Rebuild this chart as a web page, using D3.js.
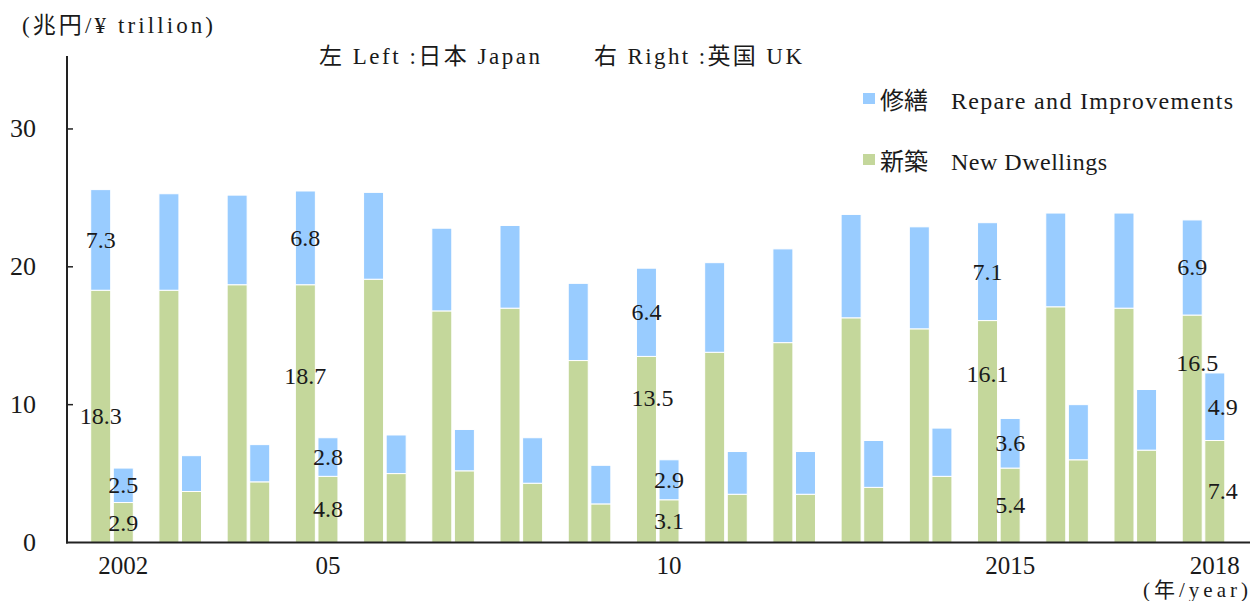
<!DOCTYPE html>
<html>
<head>
<meta charset="utf-8">
<script src="https://cdn.jsdelivr.net/npm/d3@7"></script>
<style>
  html, body { margin: 0; padding: 0; background: #fff; }
  svg { display: block; }
  text { font-family: "Liberation Serif", "Noto Sans CJK JP", serif; fill: #1a1a1a; }
</style>
</head>
<body>
<svg id="chart" width="1250" height="601"></svg>
<script>
// ---- data ----
const years = [2002, 2003, 2004, 2005, 2006, 2007, 2008, 2009, 2010, 2011, 2012, 2013, 2014, 2015, 2016, 2017, 2018];
const japanNew    = [18.3, 18.3, 18.7, 18.7, 19.1, 16.8, 17.0, 13.2, 13.5, 13.8, 14.5, 16.3, 15.5, 16.1, 17.1, 17.0, 16.5];
const japanRepair = [7.3, 7.0, 6.5, 6.8, 6.3, 6.0, 6.0, 5.6, 6.4, 6.5, 6.8, 7.5, 7.4, 7.1, 6.8, 6.9, 6.9];
const ukNew       = [2.9, 3.7, 4.4, 4.8, 5.0, 5.2, 4.3, 2.8, 3.1, 3.5, 3.5, 4.0, 4.8, 5.4, 6.0, 6.7, 7.4];
const ukRepair    = [2.5, 2.6, 2.7, 2.8, 2.8, 3.0, 3.3, 2.8, 2.9, 3.1, 3.1, 3.4, 3.5, 3.6, 4.0, 4.4, 4.9];
const labeledYears = [2002, 2005, 2010, 2015, 2018];
const xTickLabels = { 2002: "2002", 2005: "05", 2010: "10", 2015: "2015", 2018: "2018" };
const yTicks = [0, 10, 20, 30];
const seriesNames = ["修繕", "新築"];
const seriesEnglish = ["Repare and Improvements", "New Dwellings"];

// ---- layout ----
const colors = { repair: "#99CCFF", newd: "#C4D79B" };
const svg = d3.select("#chart");

const y = d3.scaleLinear().domain([0, 35.3]).range([542.5, 55.9]);
const x0 = d3.scaleBand().domain(years).range([67, 1248.5]).paddingInner(0.3756).paddingOuter(0.3474);
const x1 = d3.scaleBand().domain(["jp", "uk"]).range([0, x0.bandwidth()]).paddingInner(0.115).paddingOuter(0);

const rows = [];
years.forEach((yr, i) => {
  rows.push({ year: yr, c: "jp", nw: japanNew[i], rp: japanRepair[i] });
  rows.push({ year: yr, c: "uk", nw: ukNew[i], rp: ukRepair[i] });
});

const gBars = svg.append("g");
gBars.selectAll("rect.new").data(rows).join("rect")
  .attr("class", "new")
  .attr("x", d => x0(d.year) + x1(d.c))
  .attr("width", x1.bandwidth())
  .attr("y", d => y(d.nw))
  .attr("height", d => y(0) - y(d.nw))
  .attr("fill", colors.newd)
  .attr("stroke", "#fff").attr("stroke-width", 1);
gBars.selectAll("rect.rep").data(rows).join("rect")
  .attr("class", "rep")
  .attr("x", d => x0(d.year) + x1(d.c))
  .attr("width", x1.bandwidth())
  .attr("y", d => y(d.nw + d.rp))
  .attr("height", d => y(d.nw) - y(d.nw + d.rp))
  .attr("fill", colors.repair)
  .attr("stroke", "#fff").attr("stroke-width", 1);

// ---- data labels ----
const newLabelAt = { "2005jp": 12.1, "2010jp": 10.5, "2015jp": 12.2, "2018jp": 13.0 };
const newLabelDx = { "2010jp": 6, "2018jp": 5, "2018uk": 8 };
const repLabelDx = { "2018uk": 8 };
const labels = [];
rows.filter(d => labeledYears.includes(d.year)).forEach(d => {
  const k = d.year + d.c;
  const cx = x0(d.year) + x1(d.c) + x1.bandwidth() / 2;
  labels.push({ x: cx + (newLabelDx[k] || 0), v: newLabelAt[k] !== undefined ? newLabelAt[k] : d.nw / 2, t: d.nw.toFixed(1) });
  labels.push({ x: cx + (repLabelDx[k] || 0), v: d.nw + d.rp / 2, t: d.rp.toFixed(1) });
});
svg.append("g").selectAll("text").data(labels).join("text")
  .attr("x", d => d.x)
  .attr("y", d => y(d.v))
  .attr("text-anchor", "middle")
  .attr("dominant-baseline", "central")
  .attr("font-size", 24)
  .text(d => d.t);

// ---- axes ----
const axisG = svg.append("g");
axisG.append("line").attr("x1", 67).attr("x2", 67).attr("y1", y(35.3)).attr("y2", y(0) + 1)
  .attr("stroke", "#222").attr("stroke-width", 2);
axisG.append("line").attr("x1", 66).attr("x2", 1250).attr("y1", y(0)).attr("y2", y(0))
  .attr("stroke", "#222").attr("stroke-width", 2);
axisG.selectAll("line.tick").data(yTicks.filter(t => t > 0)).join("line")
  .attr("class", "tick")
  .attr("x1", 67).attr("x2", 73)
  .attr("y1", d => y(d)).attr("y2", d => y(d))
  .attr("stroke", "#222").attr("stroke-width", 1.5);
axisG.selectAll("text.yt").data(yTicks).join("text")
  .attr("class", "yt")
  .attr("x", 36)
  .attr("y", d => y(d))
  .attr("text-anchor", "end")
  .attr("dominant-baseline", "central")
  .attr("font-size", 26)
  .text(d => d);

axisG.selectAll("text.xt").data(years.filter(yr => xTickLabels[yr])).join("text")
  .attr("class", "xt")
  .attr("x", d => x0(d) + x1("uk") + x1.bandwidth() / 2)
  .attr("y", 574)
  .attr("text-anchor", "middle")
  .attr("font-size", 25)
  .text(d => xTickLabels[d]);

svg.append("text").attr("x", 1248).attr("y", 597).attr("text-anchor", "end")
  .attr("font-size", 21).attr("textLength", 105).attr("lengthAdjust", "spacing")
  .text("(年/year)");

// unit label
svg.append("text").attr("x", 22).attr("y", 33).attr("font-size", 23)
  .attr("textLength", 191).attr("lengthAdjust", "spacing")
  .text("(兆円/¥  trillion)");

// title
svg.append("text").attr("x", 319).attr("y", 64).attr("font-size", 23)
  .attr("textLength", 221).attr("lengthAdjust", "spacing")
  .text("左 Left :日本 Japan");
svg.append("text").attr("x", 594).attr("y", 64).attr("font-size", 23)
  .attr("textLength", 208).attr("lengthAdjust", "spacing")
  .text("右 Right :英国 UK");

// legend
const legend = [
  { name: seriesNames[0], en: seriesEnglish[0], color: colors.repair, w: 282 },
  { name: seriesNames[1], en: seriesEnglish[1], color: colors.newd, w: 156 }
];
const lg = svg.append("g").selectAll("g").data(legend).join("g")
  .attr("transform", (d, i) => `translate(0, ${i * 61})`);
lg.append("rect").attr("x", 863).attr("y", 93).attr("width", 12).attr("height", 11)
  .attr("fill", d => d.color);
lg.append("text").attr("x", 880).attr("y", 109).attr("font-size", 24).text(d => d.name);
lg.append("text").attr("x", 951).attr("y", 109).attr("font-size", 24)
  .attr("textLength", d => d.w).attr("lengthAdjust", "spacing")
  .text(d => d.en);
</script>
</body>
</html>
